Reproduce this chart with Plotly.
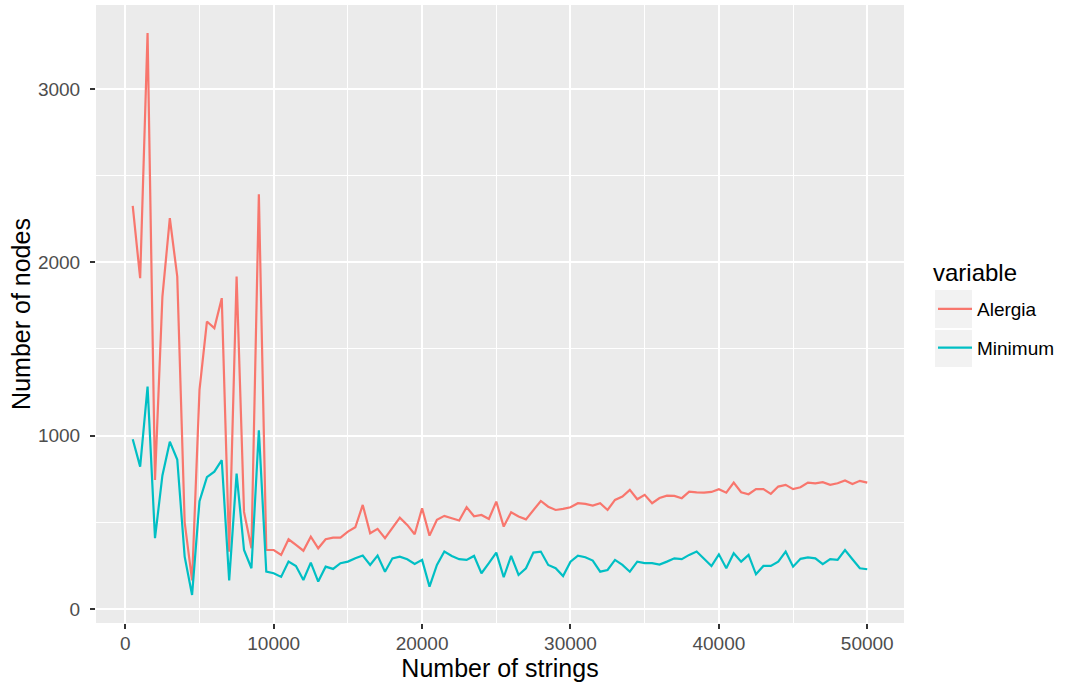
import plotly.graph_objects as go

n_strings = [500, 1000, 1500, 2000, 2500, 3000, 3500, 4000, 4500, 5000,
             5500, 6000, 6500, 7000, 7500, 8000, 8500, 9000, 9500, 10000,
             10500, 11000, 11500, 12000, 12500, 13000, 13500, 14000, 14500, 15000,
             15500, 16000, 16500, 17000, 17500, 18000, 18500, 19000, 19500, 20000,
             20500, 21000, 21500, 22000, 22500, 23000, 23500, 24000, 24500, 25000,
             25500, 26000, 26500, 27000, 27500, 28000, 28500, 29000, 29500, 30000,
             30500, 31000, 31500, 32000, 32500, 33000, 33500, 34000, 34500, 35000,
             35500, 36000, 36500, 37000, 37500, 38000, 38500, 39000, 39500, 40000,
             40500, 41000, 41500, 42000, 42500, 43000, 43500, 44000, 44500, 45000,
             45500, 46000, 46500, 47000, 47500, 48000, 48500, 49000, 49500, 50000]

alergia = [2325, 1908, 3322, 744, 1802, 2254, 1918, 500, 165, 1264,
           1658, 1620, 1793, 330, 1918, 560, 350, 2392, 340, 340,
           312, 402, 369, 336, 417, 350, 402, 411, 411, 446,
           471, 600, 437, 462, 408, 466, 527, 485, 431, 581,
           423, 514, 537, 523, 510, 587, 535, 542, 519, 619,
           475, 558, 533, 517, 567, 623, 590, 571, 577, 587,
           610, 606, 596, 610, 571, 629, 648, 687, 633, 658,
           610, 640, 654, 652, 639, 677, 673, 671, 675, 691,
           671, 729, 673, 662, 691, 691, 664, 706, 716, 691,
           702, 729, 725, 731, 716, 725, 741, 721, 739, 729]

minimum = [979, 821, 1283, 408, 770, 965, 862, 302, 81, 622,
           760, 792, 858, 165, 781, 340, 235, 1031, 215, 206,
           185, 273, 248, 167, 267, 158, 244, 231, 264, 273,
           292, 308, 254, 308, 215, 292, 302, 287, 260, 283,
           129, 254, 331, 306, 287, 283, 306, 206, 264, 325,
           183, 306, 196, 235, 325, 331, 254, 235, 190, 273,
           308, 298, 279, 215, 225, 283, 254, 215, 273, 264,
           264, 256, 273, 292, 287, 312, 331, 292, 248, 315,
           235, 321, 273, 312, 200, 248, 248, 273, 331, 244,
           289, 298, 292, 258, 287, 283, 340, 287, 235, 229]

series_names = ["Alergia", "Minimum"]
series_colors = ["#F8766D", "#00BFC4"]
legend_title = "variable"

FONT = "Liberation Sans, Arial, Helvetica, sans-serif"

fig = go.Figure()
for name, vals, col in zip(series_names, [alergia, minimum], series_colors):
    fig.add_trace(go.Scatter(
        x=n_strings, y=vals, mode="lines", name=name, legendgroup=name,
        line=dict(color=col, width=2.2),
    ))

W, H = 1065, 687
L, R, T, B = 96, 904, 5, 623

def px_x(p):
    return (p - L) / (R - L)

def px_y(p):
    return (B - p) / (B - T)

shapes = []
for (y0, y1) in [(290, 328), (330, 367)]:
    shapes.append(dict(type="rect", xref="paper", yref="paper",
                       x0=px_x(935), x1=px_x(972), y0=px_y(y1), y1=px_y(y0),
                       fillcolor="#F2F2F2", line=dict(width=0), layer="below"))

fig.update_layout(
    width=W, height=H,
    margin=dict(l=L, r=W - R, t=T, b=H - B, autoexpand=False),
    paper_bgcolor="white",
    plot_bgcolor="#EBEBEB",
    font=dict(family=FONT, color="#000000"),
    showlegend=True,
    legend=dict(
        x=px_x(933), y=px_y(290), xanchor="left", yanchor="top",
        bgcolor="rgba(0,0,0,0)",
        font=dict(size=19, color="#000000"),
        traceorder="grouped", tracegroupgap=11, itemwidth=34,
    ),
    shapes=shapes,
    annotations=[dict(text=legend_title, xref="paper", yref="paper",
                      x=px_x(931), y=px_y(272), xanchor="left", yanchor="middle",
                      showarrow=False, font=dict(size=24, color="#000000"))],
)

fig.update_xaxes(
    range=[-1975, 52475], tickmode="linear", tick0=0, dtick=10000,
    tickformat="d",
    showgrid=True, gridcolor="white", gridwidth=1.8,
    zeroline=False, showline=False,
    ticks="outside", ticklen=5, tickwidth=1.5, tickcolor="#333333",
    tickfont=dict(size=19, color="#4D4D4D", family=FONT),
    ticklabelstandoff=-2,
    minor=dict(tickmode="linear", tick0=0, dtick=5000, showgrid=True,
               gridcolor="white", gridwidth=0.9, ticks=""),
    title=dict(text="Number of strings", font=dict(size=25, color="#000000"), standoff=4),
    automargin=False,
)
fig.update_yaxes(
    range=[-81, 3484], tickmode="linear", tick0=0, dtick=1000,
    tickformat="d",
    showgrid=True, gridcolor="white", gridwidth=1.8,
    zeroline=False, showline=False,
    ticks="outside", ticklen=5, tickwidth=1.5, tickcolor="#333333",
    tickfont=dict(size=19, color="#4D4D4D", family=FONT),
    ticklabelstandoff=6,
    minor=dict(tickmode="linear", tick0=0, dtick=500, showgrid=True,
               gridcolor="white", gridwidth=0.9, ticks=""),
    title=dict(text="Number of nodes", font=dict(size=25, color="#000000"), standoff=0),
    automargin=False,
)

fig.write_html("out.html", config={"displayModeBar": False},
               post_script="document.body.style.margin='0';")
